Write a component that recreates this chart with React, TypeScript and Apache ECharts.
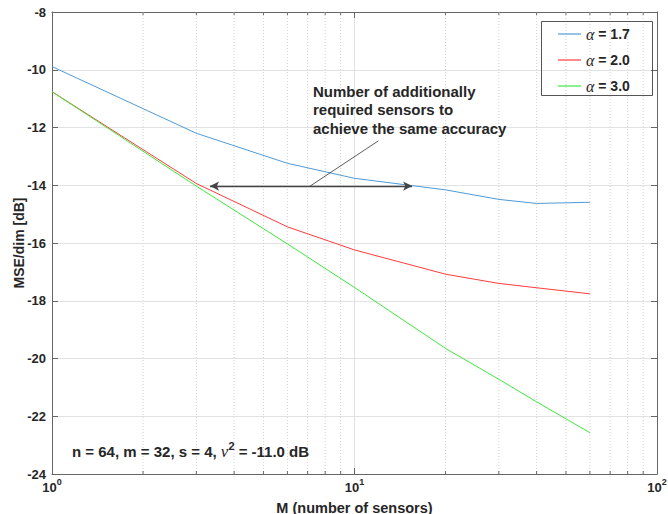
import React, { useEffect, useRef } from "react";
import * as echarts from "echarts";

const sensors = [1, 3, 6, 10, 20, 30, 40, 60];
const alpha17 = [-9.89, -12.2, -13.24, -13.76, -14.16, -14.49, -14.63, -14.59];
const alpha20 = [-10.76, -13.94, -15.44, -16.24, -17.08, -17.4, -17.55, -17.76];
const alpha30 = [-10.76, -14.03, -16.03, -17.54, -19.65, -20.72, -21.5, -22.57];
const seriesNames = ["α = 1.7", "α = 2.0", "α = 3.0"];
const seriesColors = ["#4f9ad8", "#ff3b3b", "#3ee83e"];
const minorX = [2, 3, 4, 5, 6, 7, 8, 9, 20, 30, 40, 50, 60, 70, 80, 90];
const arrowFrom = [3.33, -14.03];
const arrowTo = [15.5, -14.03];
const pointerFrom = [12, -12.46];
const pointerTo = [7.13, -14.03];
const annotationLines = ["Number of additionally", "required sensors to", "achieve the same accuracy"];

const FONT = "'Liberation Sans', Arial, Helvetica, sans-serif";
const SERIF = "'Liberation Serif', 'DejaVu Serif', serif";
const TXT = "#262626";
const AX = "#666";

export default function App() {
  const ref = useRef<HTMLDivElement>(null);
  useEffect(() => {
    if (!ref.current) return;
    const chart = echarts.init(ref.current, null, { renderer: "svg" });
    const mk = (vals: number[]) => sensors.map((m, i) => [m, vals[i]]);
    const lineSeries = [alpha17, alpha20, alpha30].map((vals, i) => ({
      type: "line",
      name: seriesNames[i],
      data: mk(vals),
      symbol: "none",
      z: 3,
      lineStyle: { color: seriesColors[i], width: 1 },
      itemStyle: { color: seriesColors[i] },
    }));
    const option: any = {
      animation: false,
      textStyle: { fontFamily: FONT },
      grid: { left: 52, right: 11, top: 12, bottom: 40, containLabel: false, outerBoundsMode: "none" },
      xAxis: [
        {
          type: "log",
          logBase: 10,
          min: 1,
          max: 100,
          name: "M (number of sensors)",
          nameLocation: "middle",
          nameGap: 26,
          nameTextStyle: { fontFamily: FONT, fontWeight: "bold", fontSize: 14.5, color: TXT },
          axisLine: { lineStyle: { color: AX, width: 1 } },
          axisTick: { inside: true, length: 6, lineStyle: { color: AX } },
          splitLine: { show: true, lineStyle: { color: "#e2e2e2", width: 1 } },
          axisLabel: {
            margin: 3,
            showMinLabel: true,
            showMaxLabel: true,
            hideOverlap: false,
            alignMinLabel: "center",
            alignMaxLabel: "center",
            formatter: (v: number) => `{b|10}{s|${Math.round(Math.log10(v))}}`,
            rich: {
              b: { fontFamily: FONT, fontWeight: "bold", fontSize: 13, color: TXT, padding: [6, 0, 0, 0], lineHeight: 15 },
              s: { fontFamily: FONT, fontWeight: "bold", fontSize: 9, color: TXT, verticalAlign: "top", lineHeight: 10 },
            },
          },
        },
        {
          type: "log",
          logBase: 10,
          min: 1,
          max: 100,
          position: "top",
          axisLine: { lineStyle: { color: AX, width: 1 } },
          axisTick: { inside: true, length: 6, lineStyle: { color: AX } },
          axisLabel: { show: false },
          splitLine: { show: false },
        },
      ],
      yAxis: [
        {
          type: "value",
          min: -24,
          max: -8,
          interval: 2,
          name: "MSE/dim [dB]",
          nameLocation: "middle",
          nameGap: 26,
          nameMoveOverlap: false,
          nameTextStyle: { fontFamily: FONT, fontWeight: "bold", fontSize: 14, color: TXT },
          axisLine: { show: true, lineStyle: { color: AX, width: 1 } },
          axisTick: { show: true, inside: true, length: 6, lineStyle: { color: AX } },
          splitLine: { show: true, lineStyle: { color: "#e2e2e2", width: 1 } },
          axisLabel: { margin: 6, fontFamily: FONT, fontWeight: "bold", fontSize: 13, color: TXT },
        },
        {
          type: "value",
          min: -24,
          max: -8,
          interval: 2,
          position: "right",
          axisLine: { show: true, lineStyle: { color: AX, width: 1 } },
          axisTick: { show: true, inside: true, length: 6, lineStyle: { color: AX } },
          splitLine: { show: false },
          axisLabel: { show: false },
        },
      ],
      legend: {
        orient: "vertical",
        left: 558,
        top: 26,
        padding: 0,
        icon: "rect",
        itemWidth: 23,
        itemHeight: 1.2,
        itemGap: 10,
        data: seriesNames,
        formatter: (name: string) => `{a|α}{b| ${name.slice(2)}}`,
        textStyle: {
          lineHeight: 14,
          padding: [0, 0, 0, 0],
          rich: {
            a: { fontFamily: SERIF, fontStyle: "italic", fontSize: 16, color: TXT, lineHeight: 14 },
            b: { fontFamily: FONT, fontWeight: "bold", fontSize: 14, color: TXT, lineHeight: 14 },
          },
        },
      },
      graphic: [
        {
          type: "rect",
          left: 539,
          top: 19,
          shape: { width: 111, height: 74 },
          style: { fill: "none", stroke: "#555", lineWidth: 1 },
          z: 10,
        },
        {
          type: "text",
          left: 313,
          top: 82,
          z: 10,
          style: {
            text: annotationLines.join("\n"),
            fontFamily: FONT,
            fontWeight: "bold",
            fontSize: 15,
            lineHeight: 18.5,
            fill: TXT,
          },
        },
        {
          type: "text",
          left: 72,
          top: 437,
          z: 10,
          style: {
            text: "{t|n = 64, m = 32, s = 4, }{n|ν}{s|2}{t| = -11.0 dB}",
            rich: {
              t: { fontFamily: FONT, fontWeight: "bold", fontSize: 15, fill: TXT, padding: [6, 0, 0, 0], lineHeight: 17 },
              n: { fontFamily: SERIF, fontStyle: "italic", fontSize: 17, fill: TXT, padding: [6, 0, 0, 0], lineHeight: 17 },
              s: { fontFamily: FONT, fontWeight: "bold", fontSize: 11, fill: TXT, verticalAlign: "top", lineHeight: 12 },
            },
          },
        },
      ],
      series: [
        {
          type: "custom",
          z: 1,
          silent: true,
          data: minorX.map((v) => [v, -24]),
          encode: { x: 0, y: 1 },
          renderItem: (params: any, api: any) => {
            const v = api.value(0);
            const pb = api.coord([v, -24]);
            const pt = api.coord([v, -8]);
            return {
              type: "group",
              children: [
                {
                  type: "line",
                  shape: { x1: pb[0], y1: pt[1], x2: pb[0], y2: pb[1] },
                  style: { stroke: "#d2d2d2", lineWidth: 1, lineDash: [1, 2] },
                },
                {
                  type: "line",
                  shape: { x1: pb[0], y1: pb[1], x2: pb[0], y2: pb[1] - 3 },
                  style: { stroke: AX, lineWidth: 1 },
                },
                {
                  type: "line",
                  shape: { x1: pb[0], y1: pt[1], x2: pb[0], y2: pt[1] + 3 },
                  style: { stroke: AX, lineWidth: 1 },
                },
              ],
            };
          },
        },
        ...lineSeries,
        {
          type: "line",
          name: "annotation",
          data: [],
          z: 4,
          silent: true,
          markLine: {
            silent: true,
            animation: false,
            label: { show: false },
            data: [
              [
                { coord: arrowFrom, symbol: "arrow", symbolSize: [7, 9] },
                { coord: arrowTo, symbol: "arrow", symbolSize: [7, 9] },
              ],
              [
                { coord: pointerFrom, symbol: "none", lineStyle: { width: 0.8, color: "#333" } },
                { coord: pointerTo, symbol: "none" },
              ],
            ],
            lineStyle: { color: "#444", width: 1.3, type: "solid" },
            itemStyle: { color: "#111" },
          },
        },
      ],
    };
    chart.setOption(option);
    return () => chart.dispose();
  }, []);
  return <div ref={ref} style={{ position: "absolute", left: 0, top: 0, width: 668, height: 514 }} />;
}
